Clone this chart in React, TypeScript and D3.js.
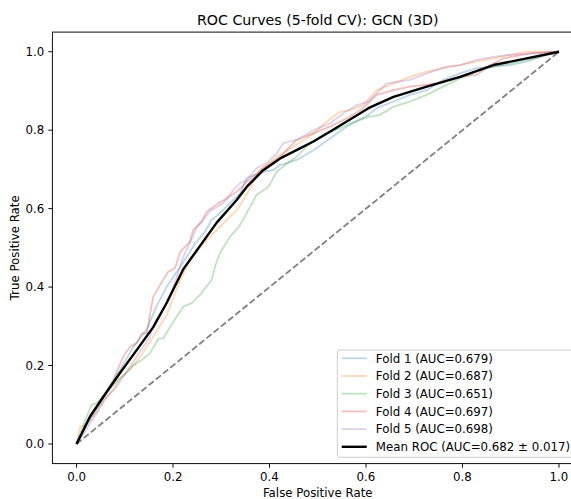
import React from "react";
import * as d3 from "d3";

// ---- data ----
const fold1: [number, number][] = [
  [0, 0], [0.011, 0.027], [0.049, 0.104], [0.09, 0.189], [0.118, 0.248], [0.145, 0.291],
  [0.166, 0.352], [0.187, 0.401], [0.215, 0.452], [0.228, 0.477], [0.249, 0.516], [0.266, 0.541],
  [0.28, 0.571], [0.297, 0.588], [0.318, 0.614], [0.339, 0.639], [0.353, 0.678], [0.387, 0.694],
  [0.408, 0.698], [0.422, 0.711], [0.456, 0.724], [0.491, 0.749], [0.525, 0.779], [0.56, 0.809],
  [0.605, 0.839], [0.622, 0.856], [0.657, 0.873], [0.691, 0.89], [0.726, 0.902], [0.76, 0.928],
  [0.795, 0.945], [0.829, 0.958], [0.864, 0.962], [0.898, 0.966], [0.933, 0.975], [0.975, 0.992],
  [1, 1],
];
const fold2: [number, number][] = [
  [0, 0], [0.007, 0.044], [0.018, 0.048], [0.042, 0.082], [0.063, 0.121], [0.076, 0.138],
  [0.09, 0.167], [0.111, 0.189], [0.132, 0.223], [0.159, 0.274], [0.187, 0.329], [0.215, 0.418],
  [0.235, 0.469], [0.263, 0.512], [0.291, 0.546], [0.311, 0.571], [0.332, 0.596], [0.346, 0.622],
  [0.36, 0.653], [0.38, 0.698], [0.415, 0.732], [0.456, 0.762], [0.491, 0.792], [0.519, 0.822],
  [0.546, 0.847], [0.567, 0.851], [0.594, 0.864], [0.622, 0.902], [0.657, 0.919], [0.691, 0.936],
  [0.726, 0.949], [0.76, 0.958], [0.795, 0.966], [0.829, 0.975], [0.864, 0.983], [0.898, 0.992],
  [0.933, 1], [1, 1],
];
const fold3: [number, number][] = [
  [0, 0], [0.018, 0.061], [0.031, 0.099], [0.042, 0.104], [0.055, 0.122], [0.083, 0.159],
  [0.104, 0.184], [0.118, 0.201], [0.135, 0.214], [0.152, 0.231], [0.17, 0.269], [0.18, 0.269],
  [0.194, 0.299], [0.221, 0.35], [0.239, 0.359], [0.256, 0.38], [0.28, 0.418], [0.287, 0.452],
  [0.297, 0.486], [0.318, 0.528], [0.339, 0.558], [0.36, 0.605], [0.373, 0.635], [0.398, 0.656],
  [0.415, 0.694], [0.432, 0.711], [0.456, 0.732], [0.484, 0.767], [0.512, 0.788], [0.546, 0.805],
  [0.567, 0.817], [0.605, 0.834], [0.629, 0.839], [0.657, 0.86], [0.691, 0.873], [0.726, 0.89],
  [0.76, 0.911], [0.795, 0.932], [0.829, 0.949], [0.864, 0.962], [0.898, 0.97], [0.947, 0.983],
  [1, 1],
];
const fold4: [number, number][] = [
  [0, 0], [0.024, 0.061], [0.056, 0.121], [0.076, 0.163], [0.097, 0.223], [0.111, 0.248],
  [0.125, 0.257], [0.135, 0.282], [0.146, 0.282], [0.152, 0.329], [0.159, 0.375], [0.173, 0.405],
  [0.19, 0.439], [0.204, 0.448], [0.215, 0.49], [0.235, 0.516], [0.242, 0.546], [0.259, 0.567],
  [0.27, 0.592], [0.294, 0.614], [0.311, 0.626], [0.332, 0.643], [0.353, 0.668], [0.387, 0.703],
  [0.422, 0.732], [0.456, 0.775], [0.491, 0.792], [0.525, 0.809], [0.56, 0.83], [0.594, 0.856],
  [0.622, 0.89], [0.657, 0.902], [0.691, 0.911], [0.747, 0.919], [0.795, 0.936], [0.829, 0.941],
  [0.843, 0.953], [0.857, 0.966], [0.885, 0.983], [0.94, 0.996], [1, 1],
];
const fold5: [number, number][] = [
  [0, 0], [0.007, 0.01], [0.028, 0.053], [0.042, 0.078], [0.057, 0.112], [0.083, 0.146],
  [0.111, 0.197], [0.138, 0.248], [0.152, 0.274], [0.165, 0.316], [0.18, 0.342], [0.201, 0.401],
  [0.221, 0.477], [0.235, 0.512], [0.249, 0.551], [0.263, 0.571], [0.277, 0.594], [0.304, 0.614],
  [0.325, 0.647], [0.339, 0.665], [0.353, 0.673], [0.373, 0.703], [0.394, 0.716], [0.415, 0.741],
  [0.429, 0.767], [0.456, 0.775], [0.491, 0.8], [0.525, 0.817], [0.553, 0.843], [0.581, 0.864],
  [0.605, 0.873], [0.622, 0.894], [0.643, 0.919], [0.691, 0.928], [0.726, 0.945], [0.767, 0.962],
  [0.795, 0.966], [0.829, 0.979], [0.864, 0.987], [0.898, 0.992], [0.947, 0.996], [1, 1],
];
const meanRoc: [number, number][] = [
  [0, 0], [0.028, 0.07], [0.056, 0.121], [0.09, 0.181], [0.125, 0.24], [0.159, 0.298],
  [0.187, 0.36], [0.221, 0.445], [0.256, 0.505], [0.291, 0.565], [0.332, 0.622], [0.353, 0.656],
  [0.387, 0.698], [0.422, 0.728], [0.456, 0.749], [0.491, 0.771], [0.525, 0.796], [0.56, 0.822],
  [0.605, 0.856], [0.657, 0.885], [0.726, 0.911], [0.795, 0.936], [0.864, 0.966], [0.933, 0.983],
  [1, 1],
];
const foldAucs = [0.679, 0.687, 0.651, 0.697, 0.698];
const meanAuc = 0.682;
const stdAuc = 0.017;
const xTicks = [0, 0.2, 0.4, 0.6, 0.8, 1.0];
const yTicks = [0, 0.2, 0.4, 0.6, 0.8, 1.0];
const foldColors = ["#1f77b4", "#ff7f0e", "#2ca02c", "#d62728", "#9467bd"];

const folds = [fold1, fold2, fold3, fold4, fold5];

const W = 571;
const H = 499;
const FONT = "'DejaVu Sans', sans-serif";

export default function App() {
  const x = d3.scaleLinear().domain([-0.05, 1.05]).range([52.4, 583.1]);
  const y = d3.scaleLinear().domain([-0.05, 1.05]).range([463.6, 32.1]);
  const line = d3
    .line<[number, number]>()
    .x((d) => x(d[0]))
    .y((d) => y(d[1]));

  const x0 = x(-0.05), x1 = x(1.05), y0 = y(-0.05), y1 = y(1.05);

  const legendX = 337.3;
  const legendY = 350;
  const rowH = 17.7;
  const labels = [
    ...foldAucs.map((a, i) => `Fold ${i + 1} (AUC=${a.toFixed(3)})`),
    `Mean ROC (AUC=${meanAuc.toFixed(3)} \u00b1 ${stdAuc.toFixed(3)})`,
  ];

  return (
    <svg
      width={W}
      height={H}
      style={{ position: "absolute", left: 0, top: 0, background: "#fff" }}
      fontFamily={FONT}
    >
      <rect x={0} y={0} width={W} height={H} fill="#fff" />
      {/* diagonal */}
      <line
        x1={x(0)}
        y1={y(0)}
        x2={x(1)}
        y2={y(1)}
        stroke="#808080"
        strokeWidth={1.8}
        strokeDasharray="6.5,2.8"
      />
      {folds.map((f, i) => (
        <path
          key={i}
          d={line(f) || ""}
          fill="none"
          stroke={foldColors[i]}
          strokeOpacity={0.3}
          strokeWidth={1.8}
          strokeLinejoin="round"
        />
      ))}
      <path d={line(meanRoc) || ""} fill="none" stroke="#000" strokeWidth={2.4} strokeLinejoin="round" />

      {/* spines */}
      <rect x={x0} y={y1} width={x1 - x0} height={y0 - y1} fill="none" stroke="#000" strokeWidth={0.95} />

      {/* x ticks */}
      {xTicks.map((t) => (
        <g key={"x" + t}>
          <line x1={x(t)} x2={x(t)} y1={y0} y2={y0 + 4.1} stroke="#000" strokeWidth={0.95} />
          <text x={x(t)} y={y0 + 8.2} dy="0.76em" textAnchor="middle" fontSize={11.8} fill="#000">
            {t.toFixed(1)}
          </text>
        </g>
      ))}
      {yTicks.map((t) => (
        <g key={"y" + t}>
          <line x1={x0 - 4.1} x2={x0} y1={y(t)} y2={y(t)} stroke="#000" strokeWidth={0.95} />
          <text x={x0 - 8.2} y={y(t)} dy="0.36em" textAnchor="end" fontSize={11.8} fill="#000">
            {t.toFixed(1)}
          </text>
        </g>
      ))}
      <text x={(x0 + x1) / 2} y={497} textAnchor="middle" fontSize={11.8} fill="#000">
        False Positive Rate
      </text>
      <text
        transform={`translate(18.5, ${(y0 + y1) / 2}) rotate(-90)`}
        textAnchor="middle"
        fontSize={11.8}
        fill="#000"
      >
        True Positive Rate
      </text>
      <text x={(x0 + x1) / 2} y={25} textAnchor="middle" fontSize={14.2} fill="#000">
        ROC Curves (5-fold CV): GCN (3D)
      </text>

      {/* legend */}
      <rect
        x={legendX}
        y={legendY}
        width={239}
        height={107.3}
        rx={2.5}
        fill="#fff"
        fillOpacity={0.8}
        stroke="#cccccc"
        strokeWidth={1}
      />
      {labels.map((lab, i) => {
        const cy = legendY + 8.3 + i * rowH;
        const isMean = i === 5;
        return (
          <g key={lab}>
            <line
              x1={legendX + 4.4}
              x2={legendX + 29.4}
              y1={cy}
              y2={cy}
              stroke={isMean ? "#000" : foldColors[i]}
              strokeOpacity={isMean ? 1 : 0.3}
              strokeWidth={isMean ? 2.4 : 1.8}
            />
            <text x={legendX + 38.5} y={cy} dy="0.36em" fontSize={11.8} fill="#000">
              {lab}
            </text>
          </g>
        );
      })}
    </svg>
  );
}
